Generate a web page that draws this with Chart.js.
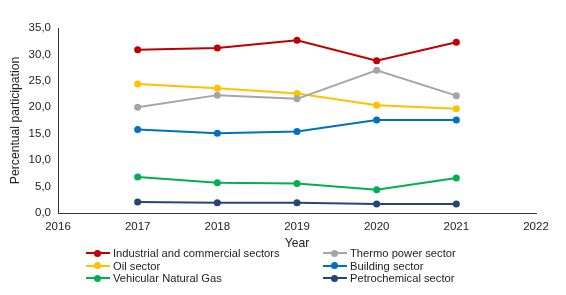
<!DOCTYPE html>
<html>
<head>
<script src="https://cdn.jsdelivr.net/npm/chart.js"></script>
<style>
  body { margin: 0; background: #fff; font-family: "Liberation Sans", Arial, sans-serif; }
  #wrap { position: relative; width: 566px; height: 295px; }
  #legend { position: absolute; left: 86px; top: 247px; display: grid;
            grid-template-columns: 237px 237px; font-size: 11.2px; color: #222; }
  .item { display: flex; align-items: center; height: 12.6px; white-space: nowrap; }
  .sw { position: relative; width: 24px; height: 12px; margin-right: 3px; }
  .sw i { position: absolute; left: 0; right: 0; top: 5px; height: 2px; }
  .sw b { position: absolute; left: 8px; top: 2.5px; width: 7px; height: 7px; border-radius: 50%; }
</style>
</head>
<body>
<div id="wrap">
  <canvas id="chart" width="566" height="295"></canvas>
  <div id="legend"></div>
</div>
<script>
// years on the x axis
const years = [2017, 2018, 2019, 2020, 2021];

// participation in percent
const industrial    = [30.9, 31.2, 32.7, 28.8, 32.3];
const thermo        = [20.0, 22.3, 21.6, 27.0, 22.2];
const oil           = [24.4, 23.6, 22.6, 20.4, 19.7];
const building      = [15.8, 15.1, 15.4, 17.6, 17.6];
const vehicular     = [6.8, 5.7, 5.6, 4.4, 6.6];
const petrochemical = [2.1, 1.95, 1.95, 1.7, 1.7];

const seriesNames = ['Industrial and commercial sectors', 'Thermo power sector', 'Oil sector',
                     'Building sector', 'Vehicular Natural Gas', 'Petrochemical sector'];
const seriesValues = [industrial, thermo, oil, building, vehicular, petrochemical];
const seriesColors = ['#C00000', '#A5A5A5', '#FFC000', '#0070C0', '#00B050', '#264478'];

const datasets = seriesNames.map((name, i) => ({
    label: name,
    data: years.map((y, j) => ({ x: y, y: seriesValues[i][j] })),
    borderColor: seriesColors[i],
    backgroundColor: seriesColors[i],
    borderWidth: 2,
    pointRadius: 3.5,
    pointBorderWidth: 0,
    tension: 0
}));

const font = { family: '"Liberation Sans", Arial, sans-serif', size: 11.5 };

new Chart(document.getElementById('chart'), {
    type: 'line',
    data: { datasets: datasets },
    options: {
        responsive: false,
        animation: false,
        layout: { padding: { left: 6, right: 30, top: 28, bottom: 44 } },
        scales: {
            x: {
                type: 'linear',
                min: 2016,
                max: 2022,
                ticks: { stepSize: 1, color: '#222', font: font, padding: 7,
                         callback: v => String(v) },
                grid: { display: false, drawTicks: false },
                border: { color: '#333', width: 1 },
                title: { display: true, text: 'Year', color: '#222', font: { ...font, size: 12.2 }, padding: { top: 0, bottom: 0 } },
                afterFit: s => { s.height = 38; }
            },
            y: {
                min: 0,
                max: 35,
                ticks: { stepSize: 5, color: '#222', font: font, padding: 7,
                         callback: v => v.toFixed(1).replace('.', ',') },
                grid: { display: false, drawTicks: false },
                border: { color: '#333', width: 1 },
                title: { display: true, text: 'Percentual participation', color: '#222', font: { ...font, size: 12.2 }, padding: 2 },
                afterFit: s => { s.width = 52; }
            }
        },
        plugins: {
            legend: { display: false },
            tooltip: { enabled: false }
        }
    }
});

// two-column legend below the chart
const legend = document.getElementById('legend');
seriesNames.forEach((name, i) => {
    const el = document.createElement('div');
    el.className = 'item';
    el.innerHTML = '<span class="sw"><i style="background:' + seriesColors[i] + '"></i><b style="background:' +
        seriesColors[i] + '"></b></span>' + name;
    legend.appendChild(el);
});
</script>
</body>
</html>
